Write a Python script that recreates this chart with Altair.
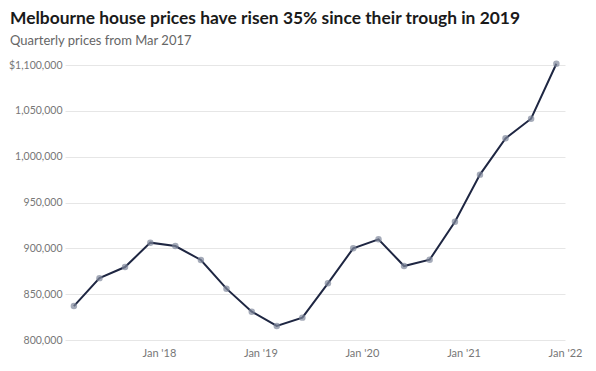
import altair as alt
import pandas as pd

dates = [
    "2017-03-01", "2017-06-01", "2017-09-01", "2017-12-01",
    "2018-03-01", "2018-06-01", "2018-09-01", "2018-12-01",
    "2019-03-01", "2019-06-01", "2019-09-01", "2019-12-01",
    "2020-03-01", "2020-06-01", "2020-09-01", "2020-12-01",
    "2021-03-01", "2021-06-01", "2021-09-01", "2021-12-01",
]
prices = [
    837000, 867500, 879600, 906200,
    902500, 887300, 856000, 830900,
    815300, 824400, 861800, 900000,
    909800, 880700, 887600, 929000,
    980400, 1020000, 1041400, 1101400,
]
y_ticks = [800000, 850000, 900000, 950000, 1000000, 1050000, 1100000]
x_tick_years = [2018, 2019, 2020, 2021, 2022]

df = pd.DataFrame({"date": [d + "T00:00:00" for d in dates], "price": prices})

FONT = "Lato"

x_enc = alt.X(
    "date:T",
    scale=alt.Scale(domain=[alt.DateTime(year=2017, month=1, date=28),
                            alt.DateTime(year=2022, month=1, date=1)]),
    axis=alt.Axis(
        title=None,
        values=[alt.DateTime(year=y, month=1, date=1) for y in x_tick_years],
        format="%b '%y",
        grid=False,
        ticks=False,
        domain=False,
        labelFlush=False,
        labelPadding=7,
        labelFontSize=11,
        labelColor="#777777",
        labelFont=FONT,
    ),
)
y_enc = alt.Y(
    "price:Q",
    scale=alt.Scale(domain=[800000, 1100000], nice=False, zero=False),
    axis=alt.Axis(
        title=None,
        values=y_ticks,
        labelExpr="datum.value == 1100000 ? '$1,100,000' : format(datum.value, ',')",
        grid=True,
        gridColor="#e6e6e6",
        ticks=False,
        domain=False,
        labelPadding=3,
        labelFontSize=10.5,
        labelColor="#777777",
        labelFont=FONT,
    ),
)

base = alt.Chart(df).encode(x=x_enc, y=y_enc)
line = base.mark_line(color="#1e2642", strokeWidth=2)
pts = base.mark_circle(size=42, color="#7f879b", opacity=0.7)

chart = (
    alt.layer(line, pts)
    .properties(
        width=500,
        height=275,
        autosize=alt.AutoSizeParams(type="none"),
        padding={"left": 57, "top": 57, "right": 23, "bottom": 23},
        title=alt.TitleParams(
            "Melbourne house prices have risen 35% since their trough in 2019",
            subtitle="Quarterly prices from Mar 2017",
            anchor="start",
            frame="group",
            dx=-55,
            font=FONT,
            fontSize=17.4,
            fontWeight="bold",
            color="#1a1a1a",
            subtitleFont=FONT,
            subtitleFontSize=13,
            subtitleColor="#666666",
            subtitlePadding=7,
            offset=12,
        ),
    )
    .configure_view(stroke=None)
)

chart.save("out.html", embed_options={"renderer": "svg", "actions": False})
